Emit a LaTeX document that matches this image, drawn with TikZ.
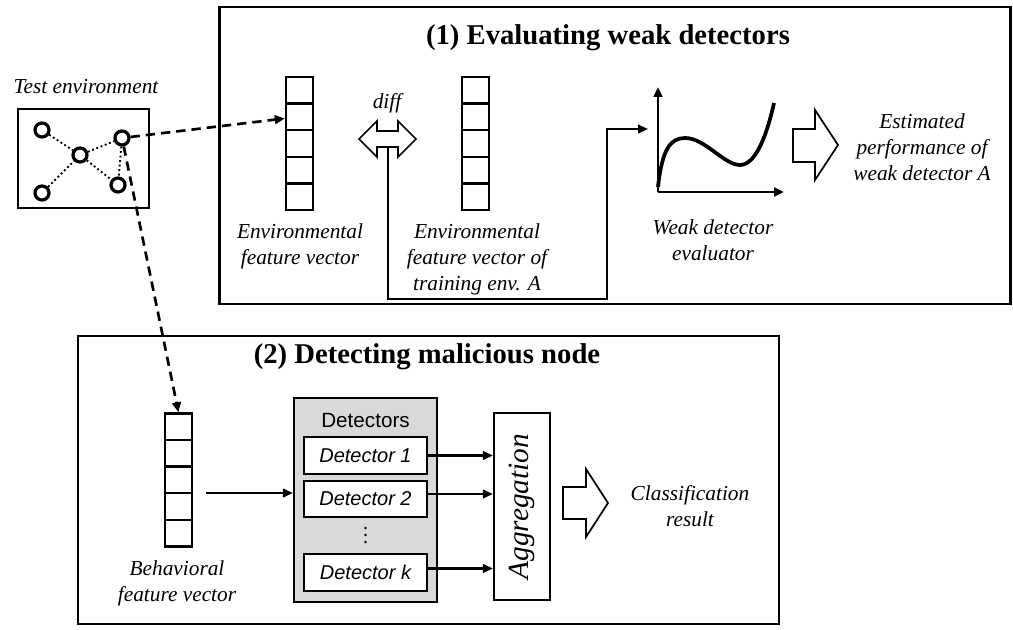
\documentclass[tikz,border=0pt]{standalone}
\usepackage{fontspec}
\setmainfont{Liberation Serif}
\setsansfont{Liberation Sans}
\usetikzlibrary{arrows.meta,calc}
\begin{document}
\begin{tikzpicture}[x=0.75pt,y=-0.75pt,
  frame/.style={draw,line width=1.7pt},
  title/.style={font=\fontsize{21.5}{24}\selectfont\bfseries},
  lbl/.style={font=\fontsize{16}{19.5}\selectfont\itshape,align=center,inner sep=0pt},
  vec/.style={draw,line width=1.8pt,inner sep=0pt,minimum width=20.25pt,minimum height=99.75pt,
    path picture={\foreach \k in {1,2,3,4}{\draw[line width=1.8pt]
      ($(path picture bounding box.north west)!\k/5!(path picture bounding box.south west)$) --
      ($(path picture bounding box.north east)!\k/5!(path picture bounding box.south east)$);}}},
  vtx/.style={circle,draw,line width=2.4pt,minimum size=10.5pt,inner sep=0pt,fill=white},
  link/.style={dotted,line width=1.4pt},
  arr/.style={line width=1.6pt,-{Triangle[length=7.5pt,width=6.5pt]}},
  dasharr/.style={line width=2pt,dash pattern=on 7pt off 4.5pt,-{Triangle[length=7.5pt,width=6.5pt]}},
  blockarr/.style={draw,line width=1.3pt,fill=white,line join=miter},
  detbox/.style={draw,line width=1.7pt,fill=white,minimum width=92pt,minimum height=27.5pt,inner sep=0pt,
    font=\sffamily\itshape\fontsize{15}{18}\selectfont},
  dot/.style={circle,fill=black,inner sep=0pt,minimum size=2.2pt}
]
\useasboundingbox (0,0) rectangle (1013,630);

% ---------- panel (1) ----------
\node[frame,minimum width=593.25pt,minimum height=222.75pt,inner sep=0pt] (p1) at (615,155.5) {};
\node[title] (t1) at (608,38) {(1) Evaluating weak detectors};

% ---------- test environment ----------
\node[font=\fontsize{16}{19.5}\selectfont\itshape] (envlbl) at (86,87) {Test environment};
\node[draw,line width=0.9pt,minimum width=98.25pt,minimum height=74.25pt,inner sep=0pt] (env) at (83.5,158.5) {};
\node[vtx] (n1) at (42,130) {};
\node[vtx] (n2) at (80,155) {};
\node[vtx] (n3) at (122,138) {};
\node[vtx] (n4) at (118,185) {};
\node[vtx] (n5) at (42,193) {};
\draw[link] (n1) -- (n2);
\draw[link] (n2) -- (n3);
\draw[link] (n2) -- (n4);
\draw[link] (n3) -- (n4);
\draw[link] (n5) -- (n2);

% ---------- feature vectors ----------
\node[vec] (fv) at (299.5,143.5) {};
\node[vec] (tv) at (475.5,143.5) {};
\node[lbl] (fvlbl) at (300,246) {Environmental\\feature vector};
\node[lbl] (tvlbl) at (477,259) {Environmental\\feature vector of\\training env. A};

% diff double arrow
\node[font=\fontsize{16}{19.5}\selectfont\itshape] (difflbl) at (387,103) {diff};
\draw[blockarr] (359,139) -- (377,121) -- (377,131) -- (398,131) -- (398,121) -- (416,139)
  -- (398,157) -- (398,147) -- (377,147) -- (377,157) -- cycle;
\coordinate (difb) at (388,147);

% evaluator plot
\coordinate (orig) at (658,192);
\coordinate (ytop) at (658,87);
\coordinate (xend) at (784,192);
\draw[arr,line width=1.9pt] (orig) -- (ytop);
\draw[arr,line width=1.9pt] (orig) -- (xend);
\draw[line width=2.8pt] (658,187) .. controls (662,150) and (670,138) .. (685,138)
  .. controls (705,138) and (724,165) .. (740,165)
  .. controls (757,165) and (768,130) .. (774,103);
\coordinate (evin) at (648,129);
\node[lbl] (evlbl) at (713,240) {Weak detector\\evaluator};

\coordinate (turn) at (607,299);
\draw[arr] (difb) |- (turn) |- (evin);

% output
\draw[blockarr] (793,129) -- (815,129) -- (815,110) -- (838,145) -- (815,180) -- (815,162) -- (793,162) -- cycle;
\node[lbl] (est) at (922,147) {Estimated\\performance of\\weak detector A};

% ---------- panel (2) ----------
\node[frame,minimum width=525.75pt,minimum height=216pt,inner sep=0pt] (p2) at (428.5,480) {};
\node[title] (t2) at (427,357) {(2) Detecting malicious node};

\node[vec] (bv) at (178.5,480) {};
\node[lbl] (bvlbl) at (177,583) {Behavioral\\feature vector};

\node[draw,line width=1.7pt,fill=gray!30,minimum width=107.25pt,minimum height=153pt,inner sep=0pt] (dets) at (365.5,500) {};
\node[font=\sffamily\fontsize{15.5}{18}\selectfont] (detlbl) at (365.5,420) {Detectors};
\node[detbox] (d1) at (365.5,455.5) {Detector 1};
\node[detbox] (d2) at (365.5,499) {Detector 2};
\node[dot] (v1) at (365.5,528) {};
\node[dot] (v2) at (365.5,535) {};
\node[dot] (v3) at (365.5,542) {};
\node[detbox] (dk) at (365.5,572.5) {Detector \textit{k}};

\node[draw,line width=1.7pt,minimum width=42pt,minimum height=140.25pt,inner sep=0pt] (agg) at (522,506.5) {};
\node[rotate=90,font=\fontsize{22}{26}\selectfont\itshape] (agglbl) at (522,506.5) {Aggregation};

\draw[arr] (bv.east |- 0,493) ++(13,0) coordinate (bvout) -- (dets.west |- bvout);
\draw[arr] (d1.east) -- (agg.west |- d1.east);
\draw[arr] ($(d2.east)+(0,-5)$) coordinate (d2out) -- (agg.west |- d2out);
\draw[arr] ($(dk.east)+(0,-4)$) coordinate (dkout) -- (agg.west |- dkout);

\draw[blockarr] (563,487) -- (586,487) -- (586,469) -- (608,503) -- (586,537) -- (586,519) -- (563,519) -- cycle;
\node[lbl] (cls) at (690,506) {Classification\\result};

% ---------- links from the test environment ----------
\draw[dasharr] (n3) -- ($(fv.north west)!0.315!(fv.south west)$);
\draw[dasharr] (n3) -- (bv.north);
\end{tikzpicture}
\end{document}
